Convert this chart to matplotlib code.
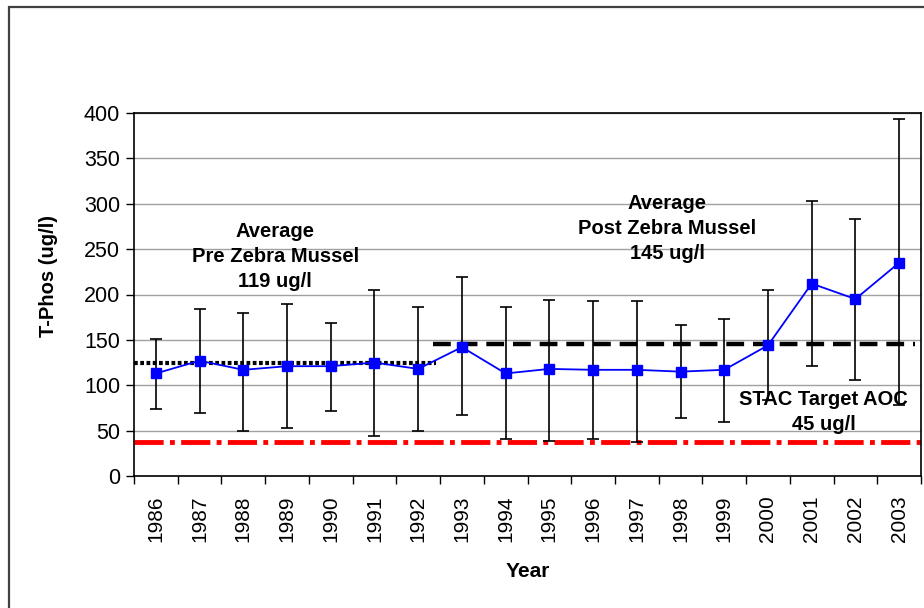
import numpy as np
import matplotlib
matplotlib.use("Agg")
import matplotlib.pyplot as plt
from matplotlib.patches import Rectangle

years = [str(y) for y in range(1986, 2004)]
tphos_mean = [113, 127, 117, 121, 121, 125, 118, 142, 113, 118, 117, 117, 115, 117, 144, 212, 195, 235]
tphos_high = [151, 184, 180, 190, 169, 205, 186, 219, 186, 194, 193, 193, 166, 173, 205, 303, 283, 393]
tphos_low = [74, 69, 50, 53, 72, 44, 50, 67, 41, 39, 41, 38, 64, 60, 84, 121, 106, 78]

pre_avg = 124     # line as drawn (labelled 119 ug/l)
post_avg = 146    # line as drawn (labelled 145 ug/l)
target_aoc = 38   # line as drawn (labelled 45 ug/l)

plt.rcParams['font.family'] = ['Liberation Sans', 'DejaVu Sans']

fig = plt.figure(figsize=(9.24, 6.08), dpi=100)
ax = fig.add_axes([134 / 924, 1 - 476 / 608, 787 / 924, 363 / 608])

x = np.arange(len(years))
mean = np.array(tphos_mean)
yerr = [mean - np.array(tphos_low), np.array(tphos_high) - mean]

ax.set_xlim(-0.5, len(years) - 0.5)
ax.set_ylim(0, 400)
ax.set_yticks(range(0, 401, 50))
ax.yaxis.grid(True, color="#a0a0a0", lw=1)
ax.set_axisbelow(True)

# reference lines
ax.plot([-0.5, len(years) - 0.5], [target_aoc] * 2, color="#ff0000", lw=3.5,
        linestyle=(0, (6, 1.3, 1, 1.3)), zorder=2)
ax.plot([-0.5, 6.4], [pre_avg] * 2, color="black", lw=3, linestyle=(0, (0.9, 0.6)), zorder=2)
ax.plot([6.35, 17.37], [post_avg] * 2, color="black", lw=3.2, linestyle=(0, (4, 2)), zorder=2)

ax.errorbar(x, mean, yerr=yerr, fmt="none", ecolor="black", elinewidth=1.2,
            capsize=4.3, capthick=1.2, zorder=3)
ax.plot(x, mean, color="#0000ff", lw=1.3, marker="s", markersize=7,
        markerfacecolor="#0000ff", markeredgecolor="#0000ff", zorder=4)

ax.set_xticks(x)
ax.set_xticklabels(years, rotation=90, fontsize=15)
ax.set_xticks(np.arange(-0.5, len(years)), minor=True)
ax.tick_params(axis="x", which="major", length=0, pad=14)
ax.tick_params(axis="x", which="minor", length=6, width=1, direction="out")
ax.tick_params(axis="y", labelsize=15.5, length=6, width=1, direction="out", pad=4)

for side in ["top", "right"]:
    ax.spines[side].set_visible(True)
for s in ax.spines.values():
    s.set_linewidth(1.2)
    s.set_color("black")

ax.set_ylabel("T-Phos (ug/l)", fontsize=14.5, fontweight="bold")
ax.yaxis.set_label_coords(-0.097, 0.55)
ax.set_xlabel("Year", fontsize=15, fontweight="bold")
ax.xaxis.set_label_coords(0.5, -0.237)

txt = dict(ha="center", va="center", fontsize=14.5, fontweight="bold", linespacing=1.4)
ax.text(2.73, 242, "Average\nPre Zebra Mussel\n119 ug/l", **txt)
ax.text(11.7, 273, "Average\nPost Zebra Mussel\n145 ug/l", **txt)
ax.text(15.27, 70, "STAC Target AOC\n45 ug/l", **txt)

# chart area border (cut at right/bottom like the source image)
fig.patches.append(Rectangle((8.5 / 924, -0.1), 1.2, 1.1 - 7.5 / 608, transform=fig.transFigure,
                             fill=False, edgecolor="#404040", lw=1.6))

fig.savefig("out.png", dpi=100)
